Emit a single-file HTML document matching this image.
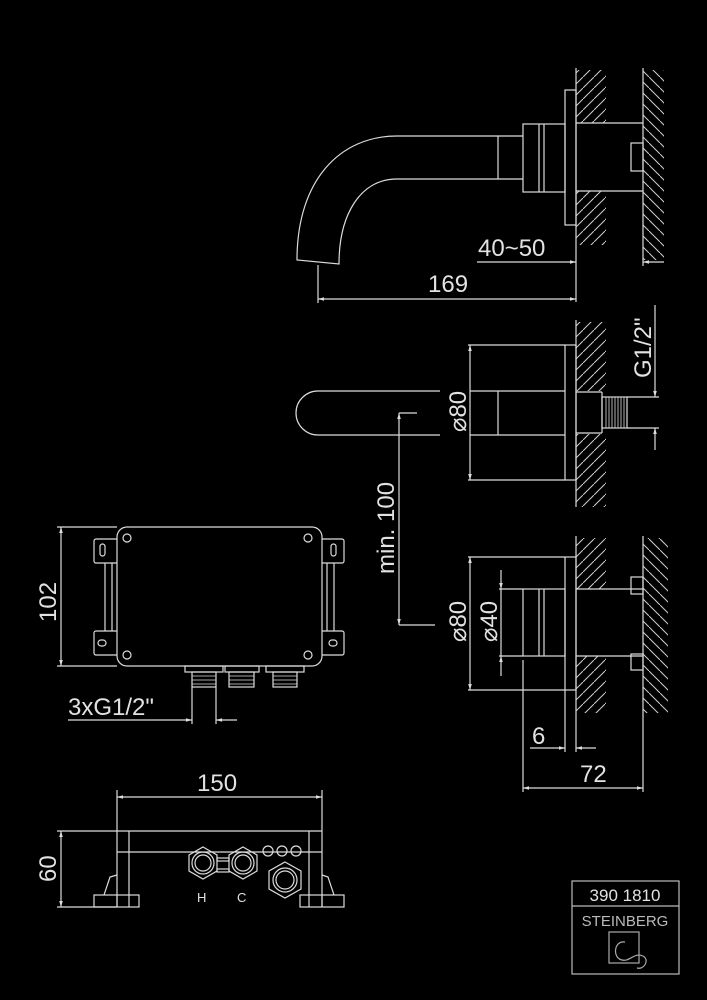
<!DOCTYPE html>
<html><head><meta charset="utf-8"><style>
html,body{margin:0;padding:0;background:#000;}
svg{display:block;}
text{font-family:"Liberation Sans",sans-serif;fill:#e2e2e2;}
</style></head><body>
<svg width="707" height="1000" viewBox="0 0 707 1000" xmlns="http://www.w3.org/2000/svg">
<defs>
<pattern id="hf" width="11" height="11" patternUnits="userSpaceOnUse"><path d="M-1,12 L12,-1" stroke="#cfcfcf" stroke-width="1"/></pattern>
<pattern id="hb" width="11" height="11" patternUnits="userSpaceOnUse"><path d="M-1,-1 L12,12" stroke="#cfcfcf" stroke-width="1"/></pattern>
<marker id="a" viewBox="0 0 10 10" refX="10" refY="5" markerWidth="7" markerHeight="5" orient="auto-start-reverse"><path d="M0,2 L10,5 L0,8z" fill="#ddd"/></marker>
</defs>
<g stroke="#dcdcdc" stroke-width="1.2" fill="none">
<rect x="576" y="70" width="30" height="53" fill="url(#hf)" stroke="none"/>
<rect x="576" y="191" width="30" height="54" fill="url(#hf)" stroke="none"/>
<rect x="643" y="70" width="21" height="190" fill="url(#hb)" stroke="none"/>
<line x1="576" y1="68" x2="576" y2="302"/>
<line x1="643" y1="68" x2="643" y2="266"/>
<line x1="576" y1="123" x2="643" y2="123"/>
<line x1="576" y1="191" x2="643" y2="191"/>
<rect x="631" y="143" width="12" height="28"/>
<rect x="565" y="90" width="11" height="135"/>
<rect x="523" y="124" width="42" height="68"/>
<line x1="539" y1="124" x2="539" y2="192"/><line x1="544" y1="124" x2="544" y2="192"/>
<line x1="397" y1="136" x2="523" y2="136"/><line x1="397" y1="179" x2="523" y2="179"/>
<line x1="498" y1="136" x2="498" y2="179"/>
<path d="M397,136 C340,136 297,180 297,260 L339,264 C339,215 360,179 397,179"/>
<line x1="477" y1="262" x2="576" y2="262" marker-end="url(#a)"/>
<line x1="664" y1="262" x2="643" y2="262" marker-end="url(#a)"/>
<line x1="318" y1="265" x2="318" y2="303"/>
<line x1="318" y1="299" x2="576" y2="299" marker-start="url(#a)" marker-end="url(#a)"/>

<rect x="576" y="322" width="30" height="69" fill="url(#hf)" stroke="none"/>
<rect x="576" y="434" width="30" height="73" fill="url(#hf)" stroke="none"/>
<line x1="576" y1="320" x2="576" y2="507"/>
<rect x="565" y="345" width="11" height="135"/>
<line x1="468" y1="345" x2="565" y2="345"/><line x1="468" y1="480" x2="565" y2="480"/>
<line x1="470" y1="345" x2="470" y2="480" marker-start="url(#a)" marker-end="url(#a)"/>
<path d="M440,391 L318,391 A22,22 0 0 0 318,435 L440,435"/>
<line x1="470" y1="391" x2="565" y2="391"/><line x1="470" y1="435" x2="565" y2="435"/>
<line x1="498" y1="391" x2="498" y2="435"/>
<line x1="576" y1="392" x2="602" y2="392"/><line x1="576" y1="433" x2="602" y2="433"/>
<line x1="602" y1="392" x2="602" y2="433"/>
<rect x="602" y="397" width="25" height="31"/>
<path d="M606,397v31M609,397v31M612,397v31M615,397v31M618,397v31M621,397v31M624,397v31" stroke-width="0.8"/>
<line x1="627" y1="397" x2="659" y2="397"/><line x1="627" y1="428" x2="659" y2="428"/>
<line x1="655" y1="305" x2="655" y2="397" marker-end="url(#a)"/>
<line x1="655" y1="450" x2="655" y2="428" marker-end="url(#a)"/>
<line x1="399" y1="413" x2="417" y2="413"/><line x1="399" y1="625" x2="435" y2="625"/>
<line x1="399" y1="413" x2="399" y2="625" marker-start="url(#a)" marker-end="url(#a)"/>

<rect x="576" y="538" width="30" height="51" fill="url(#hf)" stroke="none"/>
<rect x="576" y="656" width="30" height="57" fill="url(#hf)" stroke="none"/>
<rect x="643" y="538" width="25" height="175" fill="url(#hb)" stroke="none"/>
<line x1="576" y1="536" x2="576" y2="752"/>
<line x1="643" y1="536" x2="643" y2="792"/>
<line x1="576" y1="589" x2="643" y2="589"/><line x1="576" y1="656" x2="643" y2="656"/>
<rect x="631" y="577" width="12" height="17"/><rect x="631" y="654" width="12" height="16"/>
<rect x="565" y="557" width="11" height="133"/>
<line x1="468" y1="557" x2="565" y2="557"/><line x1="468" y1="690" x2="565" y2="690"/>
<line x1="470" y1="557" x2="470" y2="690" marker-start="url(#a)" marker-end="url(#a)"/>
<rect x="523" y="589" width="42" height="67"/>
<line x1="539" y1="589" x2="539" y2="656"/><line x1="544" y1="589" x2="544" y2="656"/>
<line x1="499" y1="589" x2="523" y2="589"/><line x1="499" y1="656" x2="523" y2="656"/>
<line x1="501" y1="570" x2="501" y2="589" marker-end="url(#a)"/>
<line x1="501" y1="676" x2="501" y2="656" marker-end="url(#a)"/>
<line x1="501" y1="589" x2="501" y2="656"/>
<line x1="565" y1="690" x2="565" y2="752"/>
<line x1="530" y1="748" x2="565" y2="748" marker-end="url(#a)"/>
<line x1="596" y1="748" x2="576" y2="748" marker-end="url(#a)"/>
<line x1="523" y1="660" x2="523" y2="792"/>
<line x1="523" y1="788" x2="643" y2="788" marker-start="url(#a)" marker-end="url(#a)"/>

<rect x="117" y="527" width="205" height="139" rx="10"/>
<circle cx="127" cy="538" r="4"/><circle cx="308" cy="538" r="4"/><circle cx="127" cy="655" r="4"/><circle cx="308" cy="655" r="4"/>
<path d="M117,539 H96 a2,2 0 0 0 -2,2 V561 a2,2 0 0 0 2,2 H117"/>
<path d="M117,631 H96 a2,2 0 0 0 -2,2 V653 a2,2 0 0 0 2,2 H117"/>
<rect x="100" y="544" width="5" height="12" rx="2.5"/><rect x="98" y="640" width="8" height="6" rx="3"/>
<line x1="105" y1="563" x2="105" y2="631"/><line x1="112" y1="563" x2="112" y2="631"/>
<path d="M322,539 H342 a2,2 0 0 1 2,2 V561 a2,2 0 0 1 -2,2 H322"/>
<path d="M322,631 H342 a2,2 0 0 1 2,2 V653 a2,2 0 0 1 -2,2 H322"/>
<rect x="331" y="544" width="5" height="12" rx="2.5"/><rect x="329" y="640" width="8" height="6" rx="3"/>
<line x1="327" y1="563" x2="327" y2="631"/><line x1="334" y1="563" x2="334" y2="631"/>
<line x1="57" y1="527" x2="117" y2="527"/><line x1="57" y1="666" x2="117" y2="666"/>
<line x1="61" y1="527" x2="61" y2="666" marker-start="url(#a)" marker-end="url(#a)"/>
<rect x="185" y="666" width="38" height="6"/><rect x="192" y="672" width="24" height="15"/>
<rect x="225" y="666" width="34" height="6"/><rect x="229" y="672" width="25" height="15"/>
<rect x="266" y="666" width="38" height="6"/><rect x="273" y="672" width="24" height="15"/>
<path d="M192,676h24M192,680h24M192,684h24M229,676h25M229,680h25M229,684h25M273,676h24M273,680h24M273,684h24" stroke-width="0.8"/>
<line x1="192" y1="687" x2="192" y2="724"/><line x1="216" y1="687" x2="216" y2="724"/>
<line x1="68" y1="720" x2="192" y2="720" marker-end="url(#a)"/>
<line x1="237" y1="720" x2="216" y2="720" marker-end="url(#a)"/>

<line x1="117" y1="790" x2="117" y2="907"/><line x1="322" y1="790" x2="322" y2="907"/>
<line x1="117" y1="797" x2="322" y2="797" marker-start="url(#a)" marker-end="url(#a)"/>
<line x1="57" y1="831" x2="322" y2="831"/><line x1="117" y1="852" x2="322" y2="852"/>
<line x1="129" y1="831" x2="129" y2="907"/><line x1="309" y1="831" x2="309" y2="907"/>
<line x1="57" y1="907" x2="117" y2="907"/>
<line x1="61" y1="831" x2="61" y2="907" marker-start="url(#a)" marker-end="url(#a)"/>
<rect x="94" y="895" width="45" height="12"/><line x1="117" y1="895" x2="117" y2="907"/>
<rect x="300" y="895" width="44" height="12"/><line x1="322" y1="895" x2="322" y2="907"/>
<path d="M104,895 L110,877 L117,875"/><path d="M334,895 L328,877 L322,875"/>
<polygon points="203,847 217,855 217,871 203,879 189,871 189,855"/>
<circle cx="203" cy="863" r="11"/><circle cx="203" cy="863" r="8"/>
<polygon points="243,847 257,855 257,871 243,879 229,871 229,855"/>
<circle cx="243" cy="863" r="11"/><circle cx="243" cy="863" r="8"/>
<rect x="217" y="858" width="12" height="3"/><rect x="217" y="869" width="12" height="3"/>
<polygon points="285,862 301,871 301,889 285,898 269,889 269,871"/>
<circle cx="285" cy="880" r="12"/><circle cx="285" cy="880" r="9"/>
<circle cx="268" cy="851" r="5"/><circle cx="282" cy="851" r="5"/><circle cx="296" cy="851" r="5"/>

<rect x="572" y="881" width="107" height="93" stroke="#bbb"/>
<line x1="572" y1="906" x2="679" y2="906" stroke="#bbb"/>
<rect x="609" y="932" width="30" height="31" stroke="#aaa"/>
<path d="M625,942 C614,940 612,958 622,960 C630,962 634,952 643,956 C650,960 644,970 637,968" stroke="#aaa"/>
</g>
<g font-size="24">
<text x="478" y="256">40~50</text>
<text x="428" y="292">169</text>
<text x="0" y="0" transform="translate(651,378) rotate(-90)">G1/2"</text>
<text x="0" y="0" transform="translate(466,432) rotate(-90)">⌀80</text>
<text x="0" y="0" transform="translate(394,574) rotate(-90)">min. 100</text>
<text x="0" y="0" transform="translate(466,642) rotate(-90)">⌀80</text>
<text x="0" y="0" transform="translate(497,642) rotate(-90)">⌀40</text>
<text x="532" y="744">6</text>
<text x="580" y="782">72</text>
<text x="0" y="0" transform="translate(56,622) rotate(-90)">102</text>
<text x="68" y="715">3xG1/2"</text>
<text x="197" y="791">150</text>
<text x="0" y="0" transform="translate(56,882) rotate(-90)">60</text>
</g>
<text x="197" y="902" font-size="13">H</text>
<text x="237" y="902" font-size="13">C</text>
<text x="625" y="901" font-size="17" text-anchor="middle">390 1810</text>
<text x="625" y="926" font-size="15" text-anchor="middle" style="fill:#bbb">STEINBERG</text>
</svg>
</body></html>
